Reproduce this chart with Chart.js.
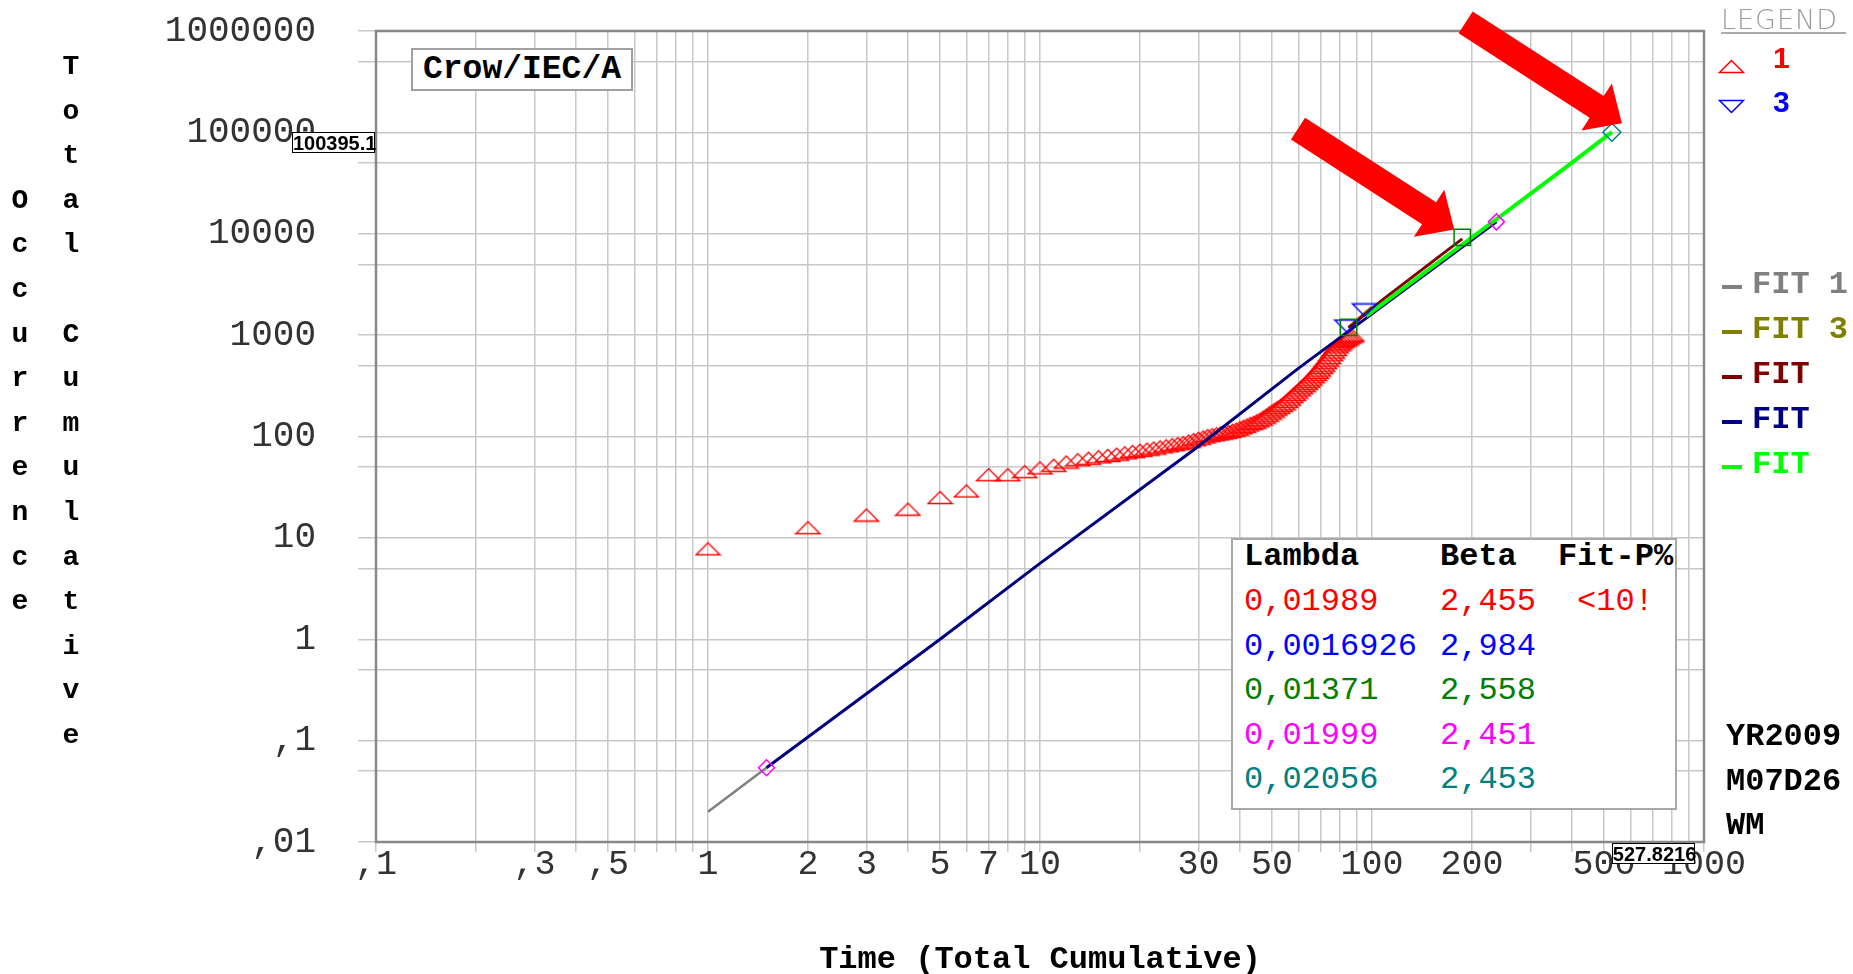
<!DOCTYPE html>
<html><head><meta charset="utf-8">
<script src="https://cdn.jsdelivr.net/npm/chart.js@4.4.0/dist/chart.umd.min.js"></script>
<style>
html,body{margin:0;padding:0;background:#fff;overflow:hidden}
#wrap{position:relative;width:1853px;height:974px;background:#fff}
#c{position:absolute;left:0;top:0}
.ov{position:absolute;white-space:pre;}
.box{position:absolute;background:#fff;box-sizing:border-box}
</style></head><body>
<div id="wrap"><canvas id="c" width="1853" height="974"></canvas></div>
<script>
// ---------------- data ----------------
const series1Time = [1,2,3,4,5,6,7,8,9,10,11,12,13,14,15,16,17,18,19,20,21,22,23,24,25,26,27,28,29,30,31,32,33,34,35,36,37,38,39,40,41,42,43,44,45,46,47,48,49,50,51,52,53,54,55,56,57,58,59,60,61,62,63,64,65,66,67,68,69,70,71,72,73,74,75,76,77,78,79,80,81,82,83,84,85,86,87];
const series1Count = [7.8,12.6,16.8,19.2,25,29,42,42,45,49,52,56,59,61,63,65,67,69,71,73,75,77,79,81,83,85,87,90,93,96,99,102,104,106,108,110,112,115,118,122,126,130,134,138,143,148,155,162,170,178,186,194,202,210,222,234,247,260,274,288,303,318,334,350,368,388,408,428,452,478,505,535,567,600,640,680,722,765,800,832,862,888,912,935,958,980,1000];
const series3Time = [84, 95];
const series3Count = [1230, 1770];
const fit1Time = [1, 1.5];
const fit1Value = [0.0199, 0.054];
const fit3Time = [85, 100];
const fit3Value = [1190, 1900];
const fitMaroonTime = [85, 108, 187];
const fitMaroonValue = [1180, 2250, 8900];
const fitNavyTime = [1.5, 5, 10, 29, 60, 237];
const fitNavyValue = [0.054, 1.0, 5.6, 73.5, 470, 13100];
const fitGreenTime = [96, 243, 386, 527.8216];
const fitGreenValue = [1540, 14800, 46000, 100395.1];
const magentaTime = [1.5, 237];
const magentaValue = [0.054, 13100];
const greenSquareTime = [85, 187];
const greenSquareValue = [1190, 9190];
const tealTime = [527.8216];
const tealValue = [100395.1];

const xGridValues = [0.1,0.2,0.3,0.4,0.5,0.6,0.7,0.8,0.9,1,2,3,4,5,6,7,8,9,10,20,30,40,50,60,70,80,90,100,200,300,400,500,600,700,800,900,1000];
const xLabelValues = [0.1,0.3,0.5,1,2,3,5,7,10,30,50,100,200,500,1000];
const xLabelText = [',1',',3',',5','1','2','3','5','7','10','30','50','100','200','500','1000'];
const yGridValues = [0.01,0.05,0.1,0.5,1,5,10,50,100,500,1000,5000,10000,50000,100000,500000,1000000];
const yLabelValues = [0.01,0.1,1,10,100,1000,10000,100000,1000000];
const yLabelText = [',01',',1','1','10','100','1000','10000','100000','1000000'];

const tableHeader = ['Lambda','Beta','Fit-P%'];
const tableLambda = ['0,01989','0,0016926','0,01371','0,01999','0,02056'];
const tableBeta = ['2,455','2,984','2,558','2,451','2,453'];
const tableFitP = ['<10!','','','',''];
const tableColors = ['#ff0000','#0000ff','#008000','#ff00ff','#008080'];
const legendFitText = ['FIT 1','FIT 3','FIT','FIT','FIT'];
const legendFitColors = ['#808080','#808000','#800000','#000080','#00ff00'];
const stampText = ['YR2009','M07D26','WM'];
const yTitleInner = 'Total Cumulative';
const yTitleOuter = 'Occurrence';
const xTitle = 'Time (Total Cumulative)';
const chartTag = 'Crow/IEC/A';

// ---------------- helpers ----------------
const W = document.getElementById('wrap');
const MONO = "'Liberation Mono','DejaVu Sans Mono',monospace";
function place(text, x, cy, font, color, extra) {
  const d = document.createElement('div');
  d.className = 'ov'; d.textContent = text;
  d.style.left = x + 'px'; d.style.top = (cy - 20) + 'px';
  d.style.lineHeight = '40px'; d.style.font = font; d.style.color = color;
  if (extra) Object.assign(d.style, extra);
  W.appendChild(d); return d;
}
function xy(t, v) { return t.map((x, i) => ({x: x, y: v[i]})); }
function markerCanvas(w, h, fn) { const c = document.createElement('canvas'); c.width = w; c.height = h; fn(c.getContext('2d')); return c; }
const triUp = markerCanvas(27, 15, g => { g.strokeStyle = '#ff0000'; g.lineWidth = 1.4; g.beginPath(); g.moveTo(1.5, 13.5); g.lineTo(13.5, 1.5); g.lineTo(25.5, 13.5); g.closePath(); g.stroke(); });
const triDown = markerCanvas(27, 15, g => { g.strokeStyle = '#0000ff'; g.lineWidth = 1.4; g.beginPath(); g.moveTo(1.5, 1.5); g.lineTo(13.5, 13.5); g.lineTo(25.5, 1.5); g.closePath(); g.stroke(); });

function labelFor(v, vals, txt) {
  for (let i = 0; i < vals.length; i++) if (Math.abs(v - vals[i]) / vals[i] < 1e-6) return txt[i];
  return '';
}

// ---------------- overlays ----------------
[...yTitleInner].forEach((ch, i) => place(ch, 56, 71 + i * 44.6, "bold 28px " + MONO, '#000', {width: '30px', textAlign: 'center'}));
[...yTitleOuter].forEach((ch, i) => place(ch, 5, 71 + (i + 3) * 44.6, "bold 28px " + MONO, '#000', {width: '30px', textAlign: 'center'}));

place(chartTag, 411, 70, "bold 33px " + MONO, '#000', {border: '2px solid #a0a0a0', background: '#fff', padding: '0 10px', lineHeight: '39px', top: '48px', height: '39px'});

place('LEGEND', 1721, 21, "200 27px 'DejaVu Sans', sans-serif", '#9a9a9a', {letterSpacing: '1px', lineHeight: '24px', top: '8px', borderBottom: '2px solid #aaa', paddingRight: '8px'});
function svgTri(x, y, up, color) {
  const s = document.createElementNS('http://www.w3.org/2000/svg', 'svg');
  s.setAttribute('width', '27'); s.setAttribute('height', '15');
  s.style.position = 'absolute'; s.style.left = x + 'px'; s.style.top = y + 'px';
  const p = document.createElementNS('http://www.w3.org/2000/svg', 'polygon');
  p.setAttribute('points', up ? '1.5,13.5 13.5,1.5 25.5,13.5' : '1.5,1.5 13.5,13.5 25.5,1.5');
  p.setAttribute('fill', 'none'); p.setAttribute('stroke', color); p.setAttribute('stroke-width', '1.5');
  s.appendChild(p); W.appendChild(s);
}
svgTri(1718, 59, true, '#ff0000');
place('1', 1773, 61, "bold 30px 'Liberation Sans', sans-serif", '#ff0000');
svgTri(1718, 99, false, '#0000ff');
place('3', 1773, 105, "bold 30px 'Liberation Sans', sans-serif", '#0000ff');
legendFitText.forEach((t, i) => {
  const cy = 286 + i * 45;
  const dash = document.createElement('div');
  dash.style.cssText = `position:absolute;left:1722px;top:${cy - 1}px;width:20px;height:4px;background:${legendFitColors[i]}`;
  W.appendChild(dash);
  place(t, 1752, cy, "bold 32px " + MONO, legendFitColors[i]);
});

const tb = document.createElement('div');
tb.className = 'box';
tb.style.cssText += 'left:1231px;top:538px;width:446px;height:272px;border:2px solid #a8a8a8;';
W.appendChild(tb);
const colX = [1244, 1440, 1558];
tableHeader.forEach((h, j) => place(h, colX[j], 558, "bold 32px " + MONO, '#000'));
tableLambda.forEach((v, i) => {
  const cy = 603 + i * 44.6;
  place(v, colX[0], cy, "32px " + MONO, tableColors[i]);
  place(tableBeta[i], colX[1], cy, "32px " + MONO, tableColors[i]);
  if (tableFitP[i]) place(tableFitP[i], 1577, cy, "32px " + MONO, tableColors[i]);
});

stampText.forEach((t, i) => place(t, 1726, 738 + i * 44.5, "bold 32px " + MONO, '#000'));

const NARROW = "bold 20px 'Liberation Sans Narrow','Liberation Sans',sans-serif";
const boxStyle = {border: '1px solid #000', background: '#fff', width: '83px', height: '21px', lineHeight: '21px', textAlign: 'center', boxSizing: 'border-box', zIndex: 3};
const crossY = place(String(tealValue[0]), 0, 0, NARROW, '#000', boxStyle);
const crossX = place(String(tealTime[0]), 0, 0, NARROW, '#000', boxStyle);

// ---------------- chart ----------------
function drawArrow(c, tx, ty) {
  const dx = 0.84, dy = 0.542, px = -dy, py = dx;
  const L = 186, Lh = 30, hw = 28, sw = 13;
  const bx = tx - dx * Lh, by = ty - dy * Lh, ax = tx - dx * L, ay = ty - dy * L;
  c.beginPath();
  c.moveTo(ax + px * sw, ay + py * sw);
  c.lineTo(bx + px * sw, by + py * sw);
  c.lineTo(bx + px * hw, by + py * hw);
  c.lineTo(tx, ty);
  c.lineTo(bx - px * hw, by - py * hw);
  c.lineTo(bx - px * sw, by - py * sw);
  c.lineTo(ax - px * sw, ay - py * sw);
  c.closePath(); c.fillStyle = '#ff0000'; c.fill();
}
const overlayPlugin = {
  id: 'overlayPlugin',
  afterDatasetsDraw(chart) {
    const c = chart.ctx, a = chart.chartArea, xs = chart.scales.x, ys = chart.scales.y;
    c.save();
    c.strokeStyle = '#888'; c.lineWidth = 2.5;
    c.strokeRect(a.left, a.top, a.right - a.left, a.bottom - a.top);
    drawArrow(c, xs.getPixelForValue(greenSquareTime[1]) - 8, ys.getPixelForValue(greenSquareValue[1]) - 8);
    drawArrow(c, xs.getPixelForValue(tealTime[0]) + 10, ys.getPixelForValue(tealValue[0]) - 9);
    c.restore();
  },
  afterRender(chart) {
    const a = chart.chartArea, xs = chart.scales.x, ys = chart.scales.y;
    crossY.style.left = (a.left - 84) + 'px';
    crossY.style.top = ys.getPixelForValue(tealValue[0]) + 'px';
    crossX.style.left = xs.getPixelForValue(tealTime[0]) + 'px';
    crossX.style.top = (a.bottom + 1) + 'px';
  }
};

const lineDs = (label, t, v, color, w, order) => ({label, data: xy(t, v), showLine: true, borderColor: color, backgroundColor: color, borderWidth: w, pointRadius: 0, tension: 0, order});

const TARGET_TOP = 31;
const chart = new Chart(document.getElementById('c'), {
  type: 'scatter',
  data: {
    datasets: [
      {label: 'teal', data: xy(tealTime, tealValue), pointStyle: 'rectRot', pointRadius: 9, borderColor: '#008080', backgroundColor: 'rgba(0,0,0,0)', borderWidth: 1.5, order: 0},
      {label: 'magenta', data: xy(magentaTime, magentaValue), pointStyle: 'rectRot', pointRadius: 8, borderColor: '#ff00ff', backgroundColor: 'rgba(0,0,0,0)', borderWidth: 1.5, order: 0},
      {label: 'green', data: xy(greenSquareTime, greenSquareValue), pointStyle: 'rect', pointRadius: 11.5, borderColor: '#008000', backgroundColor: 'rgba(0,0,0,0)', borderWidth: 1.5, order: 0},
      {label: '3', data: xy(series3Time, series3Count), pointStyle: triDown, pointRadius: 7, order: 1},
      lineDs('FIT green', fitGreenTime, fitGreenValue, '#00ff00', 4, 2),
      lineDs('FIT maroon', fitMaroonTime, fitMaroonValue, '#800000', 3, 3),
      lineDs('FIT navy', fitNavyTime, fitNavyValue, '#000080', 3, 4),
      lineDs('FIT 3', fit3Time, fit3Value, '#808000', 3, 5),
      lineDs('FIT 1', fit1Time, fit1Value, '#808080', 2.5, 6),
      {label: '1', data: xy(series1Time, series1Count), pointStyle: triUp, pointRadius: 7, order: 10}
    ]
  },
  options: {
    responsive: false,
    animation: false,
    devicePixelRatio: 1,
    layout: {padding: {left: 0, right: 149, top: TARGET_TOP, bottom: 0}},
    plugins: {legend: {display: false}, tooltip: {enabled: false}},
    scales: {
      x: {
        type: 'logarithmic', min: 0.1, max: 1000, position: 'bottom',
        afterBuildTicks: s => { s.ticks = xGridValues.map(v => ({value: v})); },
        afterFit: s => { s.height = 132; s.paddingLeft = 0; s.paddingRight = 0; },
        grid: {color: '#c8c8c8', lineWidth: 1.5, drawTicks: true, tickLength: 10, tickColor: '#c8c8c8'},
        border: {display: false},
        ticks: {autoSkip: false, maxRotation: 0, minRotation: 0, padding: 0, color: '#333',
          font: {family: "'Liberation Mono', monospace", size: 35, lineHeight: 0.7},
          callback: v => labelFor(v, xLabelValues, xLabelText)},
        title: {display: true, text: xTitle, color: '#000', padding: {top: 0, bottom: 0},
          font: {family: "'Liberation Mono', monospace", size: 32, weight: 'bold', lineHeight: 0.85}}
      },
      y: {
        type: 'logarithmic', min: 0.01, max: 1000000, position: 'left',
        afterBuildTicks: s => { s.ticks = yGridValues.map(v => ({value: v})); },
        afterFit: s => { s.width = 376; s.paddingTop = 0; s.paddingBottom = 0; },
        grid: {color: '#c8c8c8', lineWidth: 1.5, drawTicks: true, tickLength: 18, tickColor: '#c8c8c8'},
        border: {display: false},
        ticks: {autoSkip: false, padding: 42, color: '#333',
          font: {family: "'Liberation Mono', monospace", size: 36},
          callback: v => labelFor(v, yLabelValues, yLabelText)}
      }
    }
  },
  plugins: [overlayPlugin]
});
const extraTop = chart.chartArea.top - TARGET_TOP;
if (Math.abs(extraTop) > 0.5) {
  chart.options.layout.padding.top = TARGET_TOP - extraTop;
  chart.update();
}
</script>
</body></html>
